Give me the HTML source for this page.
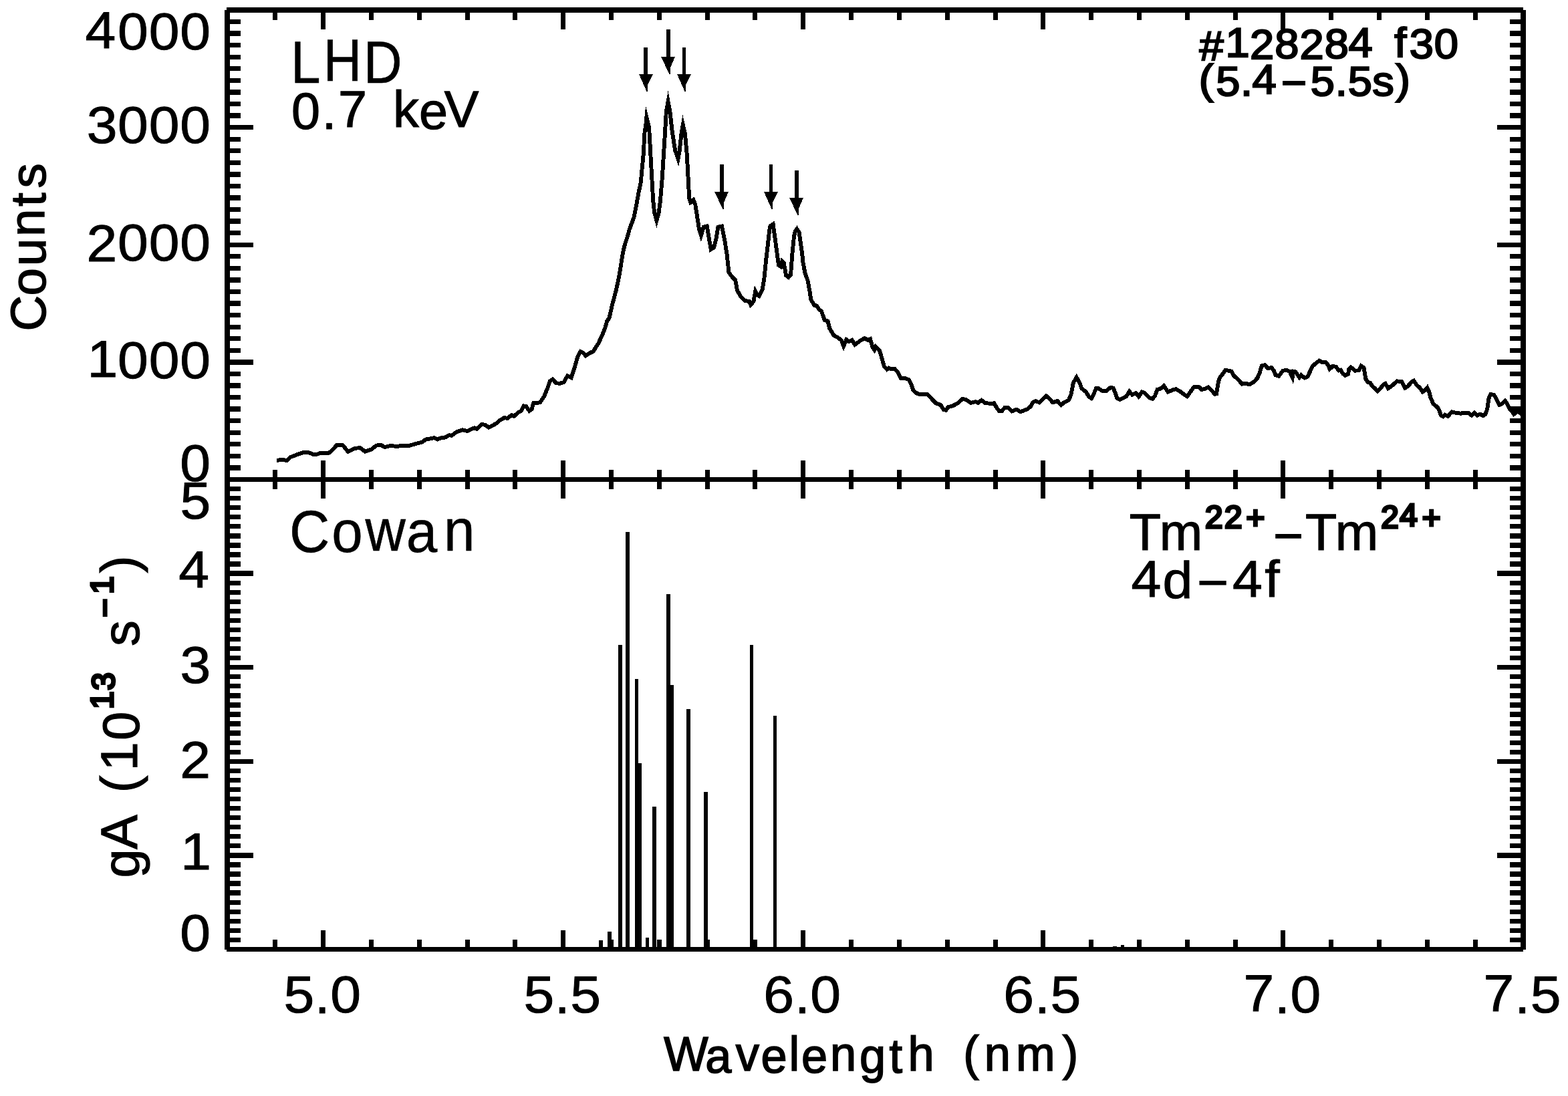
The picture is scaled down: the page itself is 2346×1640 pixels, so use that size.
<!DOCTYPE html>
<html lang="en"><head><meta charset="utf-8"><title>LHD Tm spectrum and Cowan gA values</title>
<style>
html,body{margin:0;padding:0;background:#fff}
body{width:2346px;height:1640px;overflow:hidden}
svg{display:block}
svg rect,svg polygon{shape-rendering:crispEdges}
svg text{font-family:"Liberation Sans",sans-serif;fill:#000;white-space:pre;text-rendering:geometricPrecision}
</style></head>
<body>
<svg width="2346" height="1640" viewBox="0 0 2346 1640" fill="#000">
<rect x="336.00" y="15.00" width="8.00" height="1406.00"/>
<rect x="2275.00" y="15.00" width="8.00" height="1406.00"/>
<rect x="339.00" y="11.00" width="1940.00" height="8.00"/>
<rect x="340.00" y="714.00" width="1939.00" height="7.00"/>
<rect x="339.00" y="1417.00" width="1940.00" height="7.00"/>
<rect x="408.00" y="15.00" width="7.00" height="15.00"/>
<rect x="408.00" y="703.00" width="7.00" height="29.00"/>
<rect x="408.00" y="1406.00" width="7.00" height="14.50"/>
<rect x="480.00" y="15.00" width="7.00" height="29.00"/>
<rect x="480.00" y="689.00" width="7.00" height="57.00"/>
<rect x="480.00" y="1392.00" width="7.00" height="28.50"/>
<rect x="552.00" y="15.00" width="7.00" height="15.00"/>
<rect x="552.00" y="703.00" width="7.00" height="29.00"/>
<rect x="552.00" y="1406.00" width="7.00" height="14.50"/>
<rect x="624.00" y="15.00" width="7.00" height="15.00"/>
<rect x="624.00" y="703.00" width="7.00" height="29.00"/>
<rect x="624.00" y="1406.00" width="7.00" height="14.50"/>
<rect x="696.00" y="15.00" width="7.00" height="15.00"/>
<rect x="696.00" y="703.00" width="7.00" height="29.00"/>
<rect x="696.00" y="1406.00" width="7.00" height="14.50"/>
<rect x="767.00" y="15.00" width="7.00" height="15.00"/>
<rect x="767.00" y="703.00" width="7.00" height="29.00"/>
<rect x="767.00" y="1406.00" width="7.00" height="14.50"/>
<rect x="839.00" y="15.00" width="7.00" height="29.00"/>
<rect x="839.00" y="689.00" width="7.00" height="57.00"/>
<rect x="839.00" y="1392.00" width="7.00" height="28.50"/>
<rect x="911.00" y="15.00" width="7.00" height="15.00"/>
<rect x="911.00" y="703.00" width="7.00" height="29.00"/>
<rect x="911.00" y="1406.00" width="7.00" height="14.50"/>
<rect x="983.00" y="15.00" width="7.00" height="15.00"/>
<rect x="983.00" y="703.00" width="7.00" height="29.00"/>
<rect x="983.00" y="1406.00" width="7.00" height="14.50"/>
<rect x="1055.00" y="15.00" width="7.00" height="15.00"/>
<rect x="1055.00" y="703.00" width="7.00" height="29.00"/>
<rect x="1055.00" y="1406.00" width="7.00" height="14.50"/>
<rect x="1126.00" y="15.00" width="7.00" height="15.00"/>
<rect x="1126.00" y="703.00" width="7.00" height="29.00"/>
<rect x="1126.00" y="1406.00" width="7.00" height="14.50"/>
<rect x="1198.00" y="15.00" width="7.00" height="29.00"/>
<rect x="1198.00" y="689.00" width="7.00" height="57.00"/>
<rect x="1198.00" y="1392.00" width="7.00" height="28.50"/>
<rect x="1270.00" y="15.00" width="7.00" height="15.00"/>
<rect x="1270.00" y="703.00" width="7.00" height="29.00"/>
<rect x="1270.00" y="1406.00" width="7.00" height="14.50"/>
<rect x="1342.00" y="15.00" width="7.00" height="15.00"/>
<rect x="1342.00" y="703.00" width="7.00" height="29.00"/>
<rect x="1342.00" y="1406.00" width="7.00" height="14.50"/>
<rect x="1414.00" y="15.00" width="7.00" height="15.00"/>
<rect x="1414.00" y="703.00" width="7.00" height="29.00"/>
<rect x="1414.00" y="1406.00" width="7.00" height="14.50"/>
<rect x="1486.00" y="15.00" width="7.00" height="15.00"/>
<rect x="1486.00" y="703.00" width="7.00" height="29.00"/>
<rect x="1486.00" y="1406.00" width="7.00" height="14.50"/>
<rect x="1557.00" y="15.00" width="7.00" height="29.00"/>
<rect x="1557.00" y="689.00" width="7.00" height="57.00"/>
<rect x="1557.00" y="1392.00" width="7.00" height="28.50"/>
<rect x="1629.00" y="15.00" width="7.00" height="15.00"/>
<rect x="1629.00" y="703.00" width="7.00" height="29.00"/>
<rect x="1629.00" y="1406.00" width="7.00" height="14.50"/>
<rect x="1701.00" y="15.00" width="7.00" height="15.00"/>
<rect x="1701.00" y="703.00" width="7.00" height="29.00"/>
<rect x="1701.00" y="1406.00" width="7.00" height="14.50"/>
<rect x="1773.00" y="15.00" width="7.00" height="15.00"/>
<rect x="1773.00" y="703.00" width="7.00" height="29.00"/>
<rect x="1773.00" y="1406.00" width="7.00" height="14.50"/>
<rect x="1845.00" y="15.00" width="7.00" height="15.00"/>
<rect x="1845.00" y="703.00" width="7.00" height="29.00"/>
<rect x="1845.00" y="1406.00" width="7.00" height="14.50"/>
<rect x="1916.00" y="15.00" width="7.00" height="29.00"/>
<rect x="1916.00" y="689.00" width="7.00" height="57.00"/>
<rect x="1916.00" y="1392.00" width="7.00" height="28.50"/>
<rect x="1988.00" y="15.00" width="7.00" height="15.00"/>
<rect x="1988.00" y="703.00" width="7.00" height="29.00"/>
<rect x="1988.00" y="1406.00" width="7.00" height="14.50"/>
<rect x="2060.00" y="15.00" width="7.00" height="15.00"/>
<rect x="2060.00" y="703.00" width="7.00" height="29.00"/>
<rect x="2060.00" y="1406.00" width="7.00" height="14.50"/>
<rect x="2132.00" y="15.00" width="7.00" height="15.00"/>
<rect x="2132.00" y="703.00" width="7.00" height="29.00"/>
<rect x="2132.00" y="1406.00" width="7.00" height="14.50"/>
<rect x="2204.00" y="15.00" width="7.00" height="15.00"/>
<rect x="2204.00" y="703.00" width="7.00" height="29.00"/>
<rect x="2204.00" y="1406.00" width="7.00" height="14.50"/>
<rect x="340.00" y="696.00" width="20.00" height="8.00"/>
<rect x="2259.00" y="696.00" width="20.00" height="8.00"/>
<rect x="340.00" y="679.00" width="20.00" height="7.00"/>
<rect x="2259.00" y="679.00" width="20.00" height="7.00"/>
<rect x="340.00" y="661.00" width="20.00" height="7.00"/>
<rect x="2259.00" y="661.00" width="20.00" height="7.00"/>
<rect x="340.00" y="644.00" width="20.00" height="7.00"/>
<rect x="2259.00" y="644.00" width="20.00" height="7.00"/>
<rect x="340.00" y="626.00" width="20.00" height="7.00"/>
<rect x="2259.00" y="626.00" width="20.00" height="7.00"/>
<rect x="340.00" y="608.00" width="20.00" height="8.00"/>
<rect x="2259.00" y="608.00" width="20.00" height="8.00"/>
<rect x="340.00" y="591.00" width="20.00" height="7.00"/>
<rect x="2259.00" y="591.00" width="20.00" height="7.00"/>
<rect x="340.00" y="573.00" width="20.00" height="8.00"/>
<rect x="2259.00" y="573.00" width="20.00" height="8.00"/>
<rect x="340.00" y="556.00" width="20.00" height="7.00"/>
<rect x="2259.00" y="556.00" width="20.00" height="7.00"/>
<rect x="340.00" y="538.00" width="39.00" height="8.00"/>
<rect x="2240.00" y="538.00" width="39.00" height="8.00"/>
<rect x="340.00" y="521.00" width="20.00" height="7.00"/>
<rect x="2259.00" y="521.00" width="20.00" height="7.00"/>
<rect x="340.00" y="503.00" width="20.00" height="7.00"/>
<rect x="2259.00" y="503.00" width="20.00" height="7.00"/>
<rect x="340.00" y="486.00" width="20.00" height="7.00"/>
<rect x="2259.00" y="486.00" width="20.00" height="7.00"/>
<rect x="340.00" y="468.00" width="20.00" height="7.00"/>
<rect x="2259.00" y="468.00" width="20.00" height="7.00"/>
<rect x="340.00" y="450.00" width="20.00" height="8.00"/>
<rect x="2259.00" y="450.00" width="20.00" height="8.00"/>
<rect x="340.00" y="433.00" width="20.00" height="7.00"/>
<rect x="2259.00" y="433.00" width="20.00" height="7.00"/>
<rect x="340.00" y="415.00" width="20.00" height="8.00"/>
<rect x="2259.00" y="415.00" width="20.00" height="8.00"/>
<rect x="340.00" y="398.00" width="20.00" height="7.00"/>
<rect x="2259.00" y="398.00" width="20.00" height="7.00"/>
<rect x="340.00" y="380.00" width="20.00" height="7.00"/>
<rect x="2259.00" y="380.00" width="20.00" height="7.00"/>
<rect x="340.00" y="363.00" width="39.00" height="7.00"/>
<rect x="2240.00" y="363.00" width="39.00" height="7.00"/>
<rect x="340.00" y="345.00" width="20.00" height="7.00"/>
<rect x="2259.00" y="345.00" width="20.00" height="7.00"/>
<rect x="340.00" y="327.00" width="20.00" height="8.00"/>
<rect x="2259.00" y="327.00" width="20.00" height="8.00"/>
<rect x="340.00" y="310.00" width="20.00" height="7.00"/>
<rect x="2259.00" y="310.00" width="20.00" height="7.00"/>
<rect x="340.00" y="292.00" width="20.00" height="8.00"/>
<rect x="2259.00" y="292.00" width="20.00" height="8.00"/>
<rect x="340.00" y="275.00" width="20.00" height="7.00"/>
<rect x="2259.00" y="275.00" width="20.00" height="7.00"/>
<rect x="340.00" y="257.00" width="20.00" height="8.00"/>
<rect x="2259.00" y="257.00" width="20.00" height="8.00"/>
<rect x="340.00" y="240.00" width="20.00" height="7.00"/>
<rect x="2259.00" y="240.00" width="20.00" height="7.00"/>
<rect x="340.00" y="222.00" width="20.00" height="7.00"/>
<rect x="2259.00" y="222.00" width="20.00" height="7.00"/>
<rect x="340.00" y="205.00" width="20.00" height="7.00"/>
<rect x="2259.00" y="205.00" width="20.00" height="7.00"/>
<rect x="340.00" y="187.00" width="39.00" height="7.00"/>
<rect x="2240.00" y="187.00" width="39.00" height="7.00"/>
<rect x="340.00" y="169.00" width="20.00" height="8.00"/>
<rect x="2259.00" y="169.00" width="20.00" height="8.00"/>
<rect x="340.00" y="152.00" width="20.00" height="7.00"/>
<rect x="2259.00" y="152.00" width="20.00" height="7.00"/>
<rect x="340.00" y="134.00" width="20.00" height="8.00"/>
<rect x="2259.00" y="134.00" width="20.00" height="8.00"/>
<rect x="340.00" y="117.00" width="20.00" height="7.00"/>
<rect x="2259.00" y="117.00" width="20.00" height="7.00"/>
<rect x="340.00" y="99.00" width="20.00" height="7.00"/>
<rect x="2259.00" y="99.00" width="20.00" height="7.00"/>
<rect x="340.00" y="82.00" width="20.00" height="7.00"/>
<rect x="2259.00" y="82.00" width="20.00" height="7.00"/>
<rect x="340.00" y="64.00" width="20.00" height="7.00"/>
<rect x="2259.00" y="64.00" width="20.00" height="7.00"/>
<rect x="340.00" y="46.00" width="20.00" height="8.00"/>
<rect x="2259.00" y="46.00" width="20.00" height="8.00"/>
<rect x="340.00" y="29.00" width="20.00" height="7.00"/>
<rect x="2259.00" y="29.00" width="20.00" height="7.00"/>
<rect x="340.00" y="1403.00" width="20.00" height="7.00"/>
<rect x="2259.00" y="1403.00" width="20.00" height="7.00"/>
<rect x="340.00" y="1389.00" width="20.00" height="7.00"/>
<rect x="2259.00" y="1389.00" width="20.00" height="7.00"/>
<rect x="340.00" y="1375.00" width="20.00" height="7.00"/>
<rect x="2259.00" y="1375.00" width="20.00" height="7.00"/>
<rect x="340.00" y="1361.00" width="20.00" height="7.00"/>
<rect x="2259.00" y="1361.00" width="20.00" height="7.00"/>
<rect x="340.00" y="1347.00" width="20.00" height="7.00"/>
<rect x="2259.00" y="1347.00" width="20.00" height="7.00"/>
<rect x="340.00" y="1332.00" width="20.00" height="8.00"/>
<rect x="2259.00" y="1332.00" width="20.00" height="8.00"/>
<rect x="340.00" y="1318.00" width="20.00" height="8.00"/>
<rect x="2259.00" y="1318.00" width="20.00" height="8.00"/>
<rect x="340.00" y="1304.00" width="20.00" height="8.00"/>
<rect x="2259.00" y="1304.00" width="20.00" height="8.00"/>
<rect x="340.00" y="1290.00" width="20.00" height="8.00"/>
<rect x="2259.00" y="1290.00" width="20.00" height="8.00"/>
<rect x="340.00" y="1276.00" width="39.00" height="8.00"/>
<rect x="2240.00" y="1276.00" width="39.00" height="8.00"/>
<rect x="340.00" y="1262.00" width="20.00" height="7.00"/>
<rect x="2259.00" y="1262.00" width="20.00" height="7.00"/>
<rect x="340.00" y="1248.00" width="20.00" height="7.00"/>
<rect x="2259.00" y="1248.00" width="20.00" height="7.00"/>
<rect x="340.00" y="1234.00" width="20.00" height="7.00"/>
<rect x="2259.00" y="1234.00" width="20.00" height="7.00"/>
<rect x="340.00" y="1220.00" width="20.00" height="7.00"/>
<rect x="2259.00" y="1220.00" width="20.00" height="7.00"/>
<rect x="340.00" y="1206.00" width="20.00" height="7.00"/>
<rect x="2259.00" y="1206.00" width="20.00" height="7.00"/>
<rect x="340.00" y="1192.00" width="20.00" height="7.00"/>
<rect x="2259.00" y="1192.00" width="20.00" height="7.00"/>
<rect x="340.00" y="1178.00" width="20.00" height="7.00"/>
<rect x="2259.00" y="1178.00" width="20.00" height="7.00"/>
<rect x="340.00" y="1164.00" width="20.00" height="7.00"/>
<rect x="2259.00" y="1164.00" width="20.00" height="7.00"/>
<rect x="340.00" y="1150.00" width="20.00" height="7.00"/>
<rect x="2259.00" y="1150.00" width="20.00" height="7.00"/>
<rect x="340.00" y="1136.00" width="39.00" height="7.00"/>
<rect x="2240.00" y="1136.00" width="39.00" height="7.00"/>
<rect x="340.00" y="1122.00" width="20.00" height="7.00"/>
<rect x="2259.00" y="1122.00" width="20.00" height="7.00"/>
<rect x="340.00" y="1108.00" width="20.00" height="7.00"/>
<rect x="2259.00" y="1108.00" width="20.00" height="7.00"/>
<rect x="340.00" y="1093.00" width="20.00" height="8.00"/>
<rect x="2259.00" y="1093.00" width="20.00" height="8.00"/>
<rect x="340.00" y="1079.00" width="20.00" height="8.00"/>
<rect x="2259.00" y="1079.00" width="20.00" height="8.00"/>
<rect x="340.00" y="1065.00" width="20.00" height="8.00"/>
<rect x="2259.00" y="1065.00" width="20.00" height="8.00"/>
<rect x="340.00" y="1051.00" width="20.00" height="8.00"/>
<rect x="2259.00" y="1051.00" width="20.00" height="8.00"/>
<rect x="340.00" y="1037.00" width="20.00" height="8.00"/>
<rect x="2259.00" y="1037.00" width="20.00" height="8.00"/>
<rect x="340.00" y="1023.00" width="20.00" height="7.00"/>
<rect x="2259.00" y="1023.00" width="20.00" height="7.00"/>
<rect x="340.00" y="1009.00" width="20.00" height="7.00"/>
<rect x="2259.00" y="1009.00" width="20.00" height="7.00"/>
<rect x="340.00" y="995.00" width="39.00" height="7.00"/>
<rect x="2240.00" y="995.00" width="39.00" height="7.00"/>
<rect x="340.00" y="981.00" width="20.00" height="7.00"/>
<rect x="2259.00" y="981.00" width="20.00" height="7.00"/>
<rect x="340.00" y="967.00" width="20.00" height="7.00"/>
<rect x="2259.00" y="967.00" width="20.00" height="7.00"/>
<rect x="340.00" y="953.00" width="20.00" height="7.00"/>
<rect x="2259.00" y="953.00" width="20.00" height="7.00"/>
<rect x="340.00" y="939.00" width="20.00" height="7.00"/>
<rect x="2259.00" y="939.00" width="20.00" height="7.00"/>
<rect x="340.00" y="925.00" width="20.00" height="7.00"/>
<rect x="2259.00" y="925.00" width="20.00" height="7.00"/>
<rect x="340.00" y="911.00" width="20.00" height="7.00"/>
<rect x="2259.00" y="911.00" width="20.00" height="7.00"/>
<rect x="340.00" y="897.00" width="20.00" height="7.00"/>
<rect x="2259.00" y="897.00" width="20.00" height="7.00"/>
<rect x="340.00" y="883.00" width="20.00" height="7.00"/>
<rect x="2259.00" y="883.00" width="20.00" height="7.00"/>
<rect x="340.00" y="869.00" width="20.00" height="7.00"/>
<rect x="2259.00" y="869.00" width="20.00" height="7.00"/>
<rect x="340.00" y="854.00" width="39.00" height="8.00"/>
<rect x="2240.00" y="854.00" width="39.00" height="8.00"/>
<rect x="340.00" y="840.00" width="20.00" height="8.00"/>
<rect x="2259.00" y="840.00" width="20.00" height="8.00"/>
<rect x="340.00" y="826.00" width="20.00" height="8.00"/>
<rect x="2259.00" y="826.00" width="20.00" height="8.00"/>
<rect x="340.00" y="812.00" width="20.00" height="8.00"/>
<rect x="2259.00" y="812.00" width="20.00" height="8.00"/>
<rect x="340.00" y="798.00" width="20.00" height="8.00"/>
<rect x="2259.00" y="798.00" width="20.00" height="8.00"/>
<rect x="340.00" y="784.00" width="20.00" height="7.00"/>
<rect x="2259.00" y="784.00" width="20.00" height="7.00"/>
<rect x="340.00" y="770.00" width="20.00" height="7.00"/>
<rect x="2259.00" y="770.00" width="20.00" height="7.00"/>
<rect x="340.00" y="756.00" width="20.00" height="7.00"/>
<rect x="2259.00" y="756.00" width="20.00" height="7.00"/>
<rect x="340.00" y="742.00" width="20.00" height="7.00"/>
<rect x="2259.00" y="742.00" width="20.00" height="7.00"/>
<rect x="340.00" y="728.00" width="20.00" height="7.00"/>
<rect x="2259.00" y="728.00" width="20.00" height="7.00"/>
<rect x="340.00" y="714.00" width="39.00" height="7.00"/>
<rect x="2240.00" y="714.00" width="39.00" height="7.00"/>
<rect x="925.00" y="965.00" width="6.00" height="455.00"/>
<rect x="936.00" y="796.00" width="6.00" height="624.00"/>
<rect x="950.00" y="1016.00" width="5.00" height="404.00"/>
<rect x="955.00" y="1142.00" width="5.00" height="278.00"/>
<rect x="976.00" y="1207.00" width="6.00" height="213.00"/>
<rect x="997.00" y="889.00" width="6.00" height="531.00"/>
<rect x="1003.00" y="1025.00" width="5.00" height="395.00"/>
<rect x="1027.00" y="1061.00" width="6.00" height="359.00"/>
<rect x="1053.00" y="1185.00" width="6.00" height="235.00"/>
<rect x="1122.00" y="965.00" width="5.00" height="455.00"/>
<rect x="1157.00" y="1071.00" width="5.00" height="349.00"/>
<rect x="896.00" y="1407.00" width="6.00" height="13.00"/>
<rect x="909.00" y="1394.00" width="6.00" height="26.00"/>
<rect x="966.00" y="1403.00" width="5.00" height="17.00"/>
<rect x="1665.00" y="1416.00" width="6.00" height="4.00"/>
<rect x="1677.00" y="1414.00" width="5.00" height="6.00"/>
<rect x="963.00" y="71.00" width="6.00" height="41.00"/>
<polygon points="956.0,111.0 977.0,111.0 969.0,127.0 969.0,137.0 967.5,137.0" shape-rendering="geometricPrecision"/>
<rect x="997.00" y="44.00" width="6.00" height="42.00"/>
<polygon points="989.0,85.0 1010.0,85.0 1003.0,101.0 1003.0,111.0 1001.5,111.0" shape-rendering="geometricPrecision"/>
<rect x="1021.00" y="71.00" width="5.00" height="41.00"/>
<polygon points="1013.0,111.0 1034.0,111.0 1026.0,127.0 1026.0,137.0 1024.5,137.0" shape-rendering="geometricPrecision"/>
<rect x="1077.00" y="246.00" width="6.00" height="42.00"/>
<polygon points="1069.0,287.0 1090.0,287.0 1083.0,303.0 1083.0,313.0 1081.5,313.0" shape-rendering="geometricPrecision"/>
<rect x="1151.00" y="246.00" width="5.00" height="42.00"/>
<polygon points="1143.0,287.0 1164.0,287.0 1156.0,303.0 1156.0,313.0 1154.5,313.0" shape-rendering="geometricPrecision"/>
<rect x="1189.00" y="255.00" width="6.00" height="42.00"/>
<polygon points="1181.0,296.0 1202.0,296.0 1195.0,312.0 1195.0,322.0 1193.5,322.0" shape-rendering="geometricPrecision"/>
<path d="M413.9 688.9 L420.9 687.9 L429.3 688.9 L434.8 684.0 L446.0 679.6 L454.4 676.8 L462.0 677.1 L468.3 679.9 L473.9 679.9 L479.4 677.9 L492.0 677.9 L496.2 674.3 L503.8 666.2 L512.9 666.2 L520.6 675.7 L531.0 670.8 L538.7 670.1 L546.3 675.7 L556.1 672.2 L563.1 666.6 L570.0 665.9 L575.6 669.0 L584.0 667.0 L595.1 668.0 L599.3 667.0 L611.8 667.0 L623.0 663.8 L631.4 661.7 L636.9 657.6 L649.5 655.2 L654.4 657.6 L659.2 655.5 L666.2 654.5 L671.8 651.3 L676.0 651.7 L682.9 646.4 L692.0 643.3 L699.0 645.0 L710.1 640.1 L713.6 642.0 L720.9 635.0 L725.8 635.8 L731.4 639.6 L743.2 633.3 L747.4 629.1 L755.1 624.9 L759.2 626.1 L765.5 621.0 L769.0 622.9 L775.3 617.3 L780.1 614.5 L783.6 607.5 L787.1 608.2 L792.0 614.9 L795.5 612.4 L798.3 602.6 L804.5 602.9 L808.0 602.0 L814.3 592.9 L819.9 579.0 L822.6 570.6 L826.8 567.5 L832.4 573.4 L838.0 573.7 L843.6 572.0 L849.1 562.2 L854.7 565.0 L858.9 552.5 L864.5 533.0 L868.6 526.0 L872.8 528.1 L876.3 532.3 L884.0 527.4 L887.5 526.0 L895.1 514.1 L900.7 502.3 L905.6 489.8 L908.4 480.0 L911.4 476.3 L916.2 455.4 L921.8 434.5 L926.0 414.9 L928.8 398.2 L931.6 380.1 L934.4 367.6 L938.5 355.0 L942.0 342.5 L948.3 325.7 L951.8 309.0 L955.3 289.5 L958.7 272.8 L962.6 232.1 L964.5 198.5 L966.0 189.2 L967.4 175.2 L970.9 189.2 L971.7 200.7 L973.4 232.1 L977.2 300.0 L979.1 318.0 L982.4 330.0 L985.7 318.0 L988.0 300.0 L990.8 265.8 L992.9 232.1 L995.0 198.5 L996.8 167.0 L999.6 152.0 L1002.4 167.0 L1005.9 198.5 L1010.3 225.6 L1014.5 237.6 L1016.7 225.6 L1019.4 200.7 L1021.8 186.7 L1025.0 200.7 L1027.8 232.1 L1029.6 265.8 L1031.2 296.5 L1033.3 302.8 L1037.5 299.3 L1040.3 306.2 L1043.8 328.5 L1045.9 342.5 L1048.9 352.2 L1052.8 339.7 L1057.7 338.3 L1061.2 359.2 L1063.7 373.1 L1068.2 370.3 L1071.6 356.4 L1074.4 339.7 L1080.0 338.6 L1084.2 359.2 L1087.7 381.5 L1090.5 408.0 L1096.0 414.9 L1100.2 419.1 L1103.0 434.5 L1108.6 444.2 L1114.1 449.8 L1121.1 451.2 L1123.2 456.1 L1127.4 451.2 L1130.2 435.9 L1133.0 441.4 L1135.7 442.8 L1140.6 433.1 L1143.4 416.3 L1146.2 388.5 L1149.0 364.8 L1151.1 345.3 L1152.5 338.3 L1156.7 335.5 L1160.1 360.6 L1162.9 381.5 L1165.0 396.8 L1168.2 398.9 L1170.2 391.0 L1172.7 393.3 L1176.2 412.2 L1179.7 414.9 L1183.1 410.8 L1185.2 381.5 L1188.0 353.6 L1190.1 345.3 L1192.2 342.5 L1195.7 348.0 L1198.5 367.6 L1200.2 380.0 L1201.6 393.9 L1204.4 407.9 L1208.6 420.4 L1211.4 435.7 L1213.4 448.3 L1218.3 456.7 L1221.8 457.4 L1226.0 463.6 L1228.8 465.0 L1233.7 479.0 L1238.5 480.3 L1241.3 491.5 L1247.6 502.0 L1253.9 505.4 L1258.7 508.9 L1262.2 518.0 L1266.4 508.2 L1269.9 511.0 L1274.8 508.9 L1279.0 515.9 L1287.3 509.6 L1293.6 506.1 L1298.5 508.9 L1302.0 507.1 L1305.4 519.4 L1308.2 523.6 L1310.3 518.7 L1315.9 524.3 L1319.4 536.1 L1322.9 548.6 L1327.0 552.8 L1329.8 550.7 L1332.6 552.1 L1338.9 552.1 L1343.8 557.7 L1347.9 566.1 L1354.2 566.1 L1359.8 568.2 L1363.3 575.1 L1366.1 583.5 L1370.2 587.7 L1376.5 590.5 L1387.0 589.7 L1393.9 596.7 L1400.2 603.3 L1407.2 605.7 L1412.1 613.4 L1415.5 613.7 L1418.3 609.2 L1426.0 607.1 L1433.7 602.9 L1439.9 597.1 L1444.8 597.8 L1452.5 602.9 L1459.4 601.1 L1463.6 602.9 L1468.5 598.7 L1473.4 602.9 L1483.1 604.0 L1487.3 603.3 L1491.5 610.6 L1495.0 615.1 L1499.2 614.8 L1503.3 609.9 L1508.2 609.9 L1513.8 615.5 L1520.8 612.7 L1527.0 616.2 L1537.5 612.0 L1542.4 607.8 L1545.2 602.2 L1549.3 600.1 L1554.9 602.2 L1565.4 592.5 L1570.9 597.4 L1575.1 602.2 L1582.1 600.1 L1587.7 606.1 L1591.8 602.2 L1598.8 598.7 L1602.3 591.1 L1605.8 573.0 L1610.7 564.6 L1615.5 573.0 L1618.3 581.3 L1624.6 586.2 L1629.5 593.9 L1633.0 596.0 L1636.4 589.7 L1639.9 581.3 L1643.4 581.0 L1649.0 584.8 L1655.3 584.8 L1661.5 579.9 L1665.7 580.6 L1669.2 589.7 L1671.3 596.0 L1675.5 597.8 L1684.9 593.4 L1689.8 585.7 L1693.9 590.6 L1699.5 588.1 L1703.7 593.4 L1708.6 586.4 L1712.8 588.1 L1719.0 594.8 L1724.6 596.9 L1728.1 592.0 L1731.6 582.9 L1736.4 581.5 L1741.3 577.4 L1747.6 586.4 L1755.3 583.3 L1759.4 582.2 L1765.7 585.7 L1772.0 590.6 L1776.2 593.1 L1781.0 586.4 L1786.6 578.7 L1794.3 579.4 L1797.8 582.9 L1802.6 582.0 L1808.2 579.4 L1813.8 585.0 L1817.3 589.9 L1820.1 589.2 L1822.9 571.1 L1825.6 564.1 L1829.8 559.2 L1833.3 553.7 L1842.4 555.7 L1845.9 562.0 L1852.8 568.3 L1858.4 574.6 L1864.0 573.9 L1869.5 575.3 L1876.5 571.1 L1881.4 565.5 L1884.9 557.1 L1887.7 547.4 L1892.5 546.0 L1896.7 550.9 L1902.3 550.2 L1905.8 554.4 L1908.6 561.3 L1913.4 562.7 L1919.0 555.1 L1923.9 553.7 L1929.5 555.7 L1933.7 564.8 L1935.1 555.7 L1938.5 556.4 L1944.1 564.8 L1946.9 561.3 L1951.8 565.5 L1956.7 563.4 L1960.1 555.7 L1963.6 548.1 L1969.2 543.2 L1974.1 539.7 L1977.6 541.8 L1983.1 541.8 L1984.2 542.5 L1987.7 547.4 L1989.5 552.3 L1993.9 548.1 L1998.8 548.8 L2003.0 554.4 L2005.8 553.7 L2009.3 559.2 L2012.8 562.0 L2016.9 559.9 L2018.3 552.3 L2021.1 549.5 L2027.4 554.6 L2033.0 554.4 L2036.4 547.4 L2040.6 550.2 L2043.4 566.9 L2046.2 571.8 L2050.4 573.2 L2053.2 578.0 L2056.7 580.8 L2060.8 585.3 L2065.7 580.8 L2069.2 576.0 L2072.7 573.9 L2076.9 581.1 L2082.4 577.4 L2090.1 570.4 L2097.1 571.1 L2102.0 580.6 L2106.1 578.3 L2111.7 571.8 L2115.2 569.7 L2119.4 576.0 L2123.6 579.4 L2128.4 586.4 L2131.9 584.3 L2135.4 580.1 L2138.2 586.4 L2140.3 594.8 L2144.5 604.5 L2150.7 609.4 L2153.5 614.3 L2155.6 621.3 L2159.1 623.3 L2161.9 620.6 L2166.1 622.9 L2172.3 616.4 L2177.9 617.8 L2185.6 618.7 L2188.4 617.8 L2197.4 618.2 L2201.6 621.5 L2205.8 617.8 L2210.0 621.5 L2214.1 619.6 L2219.0 622.0 L2222.5 619.9 L2225.3 611.5 L2227.4 596.2 L2230.2 590.3 L2235.1 590.6 L2239.2 597.6 L2243.4 605.9 L2246.9 604.5 L2251.8 599.7 L2255.3 604.5 L2258.0 610.8 L2262.9 616.4 L2265.0 619.9 L2270.6 615.0 L2274.8 618.5 L2278.3 616.4" fill="none" stroke="#000" stroke-width="5.9" stroke-linejoin="miter" stroke-miterlimit="10" stroke-linecap="butt" shape-rendering="crispEdges"/>
<text transform="translate(129.10,71.50) scale(1.0600,1)" font-size="77.67" x="-1.6 44.3 88.3 132.3" y="0.0 2.3 2.3 2.3" stroke="#000" stroke-width="0.94">4000</text>
<text transform="translate(129.10,211.50) scale(1.0600,1)" font-size="77.67" x="0.6 44.3 88.3 132.3" y="2.3 2.3 2.3 2.3" stroke="#000" stroke-width="0.94">3000</text>
<text transform="translate(129.10,387.50) scale(1.0600,1)" font-size="77.67" x="0.4 44.3 88.3 132.3" y="3.0 2.3 2.3 2.3" stroke="#000" stroke-width="0.94">2000</text>
<text transform="translate(129.10,563.50) scale(1.0600,1)" font-size="77.67" x="1.3 44.3 88.3 132.3" y="0.0 2.3 2.3 2.3" stroke="#000" stroke-width="0.94">1000</text>
<text transform="translate(268.90,717.50) scale(1.0600,1)" font-size="77.67" x="0.4" y="2.3" stroke="#000" stroke-width="0.94">0</text>
<text transform="translate(268.90,773.50) scale(1.0600,1)" font-size="77.67" x="0.5" y="2.3" stroke="#000" stroke-width="0.94">5</text>
<text transform="translate(268.90,879.30) scale(1.0600,1)" font-size="77.67" x="-1.6" y="0.0" stroke="#000" stroke-width="0.94">4</text>
<text transform="translate(268.90,1019.90) scale(1.0600,1)" font-size="77.67" x="0.6" y="2.3" stroke="#000" stroke-width="0.94">3</text>
<text transform="translate(268.90,1160.50) scale(1.0600,1)" font-size="77.67" x="0.4" y="3.0" stroke="#000" stroke-width="0.94">2</text>
<text transform="translate(268.90,1301.10) scale(1.0600,1)" font-size="77.67" x="1.3" y="0.0" stroke="#000" stroke-width="0.94">1</text>
<text transform="translate(268.90,1420.50) scale(1.0600,1)" font-size="77.67" x="0.4" y="2.3" stroke="#000" stroke-width="0.94">0</text>
<text transform="translate(423.93,1512.50) scale(1.0600,1)" font-size="77.67" x="0.5 44.2 66.3" y="2.3 3.0 2.3" stroke="#000" stroke-width="0.94">5.0</text>
<text transform="translate(783.00,1512.50) scale(1.0600,1)" font-size="77.67" x="0.5 44.2 66.4" y="2.3 3.0 2.3" stroke="#000" stroke-width="0.94">5.5</text>
<text transform="translate(1142.08,1512.50) scale(1.0600,1)" font-size="77.67" x="0.1 44.2 66.3" y="2.3 3.0 2.3" stroke="#000" stroke-width="0.94">6.0</text>
<text transform="translate(1501.15,1512.50) scale(1.0600,1)" font-size="77.67" x="0.1 44.2 66.4" y="2.3 3.0 2.3" stroke="#000" stroke-width="0.94">6.5</text>
<text transform="translate(1860.23,1512.50) scale(1.0600,1)" font-size="77.67" x="0.3 44.2 66.3" y="0.0 3.0 2.3" stroke="#000" stroke-width="0.94">7.0</text>
<text transform="translate(2219.30,1512.50) scale(1.0600,1)" font-size="77.67" x="0.3 44.2 66.4" y="0.0 3.0 2.3" stroke="#000" stroke-width="0.94">7.5</text>
<text transform="translate(999.50,1602.80) scale(0.9700,1)" font-size="72.53" x="-6.5 57.6 104.4 143.2 186.5 205.7 250.0 295.3 341.2 370.0 413.2 455.5 487.8 536.7 608.5" y="-0.4 1.9 -0.4 1.9 -0.4 1.9 -0.4 1.9 1.9 -0.4 1.9 -2.2 -0.4 -0.4 -2.2" stroke="#000" stroke-width="1.71">Wavelength (nm)</text>
<text transform="translate(65.70,492.80) rotate(-90)" font-size="74.24" x="-2.8 50.4 94.7 138.9 183.7 211.3" y="2.0 2.0 2.0 -0.2 2.0 2.0" stroke="#000" stroke-width="1.45">Counts</text>
<text transform="translate(205.50,1312.20) rotate(-90)"><tspan font-size="77.30" x="-1.2 41.5 86.2 125.9 158.9 204.5" y="2.1 -0.1 2.1 -0.9 -0.1 2.1" stroke="#000" stroke-width="1.20">gA (10</tspan><tspan font-size="47.62" x="251.2 279.5" y="-36.8 -34.3" stroke="#000" stroke-width="3.62">13</tspan><tspan font-size="77.30" x="307.1 345.2" y="2.1 2.1" stroke="#000" stroke-width="1.20"> s</tspan><tspan font-size="47.62" x="388.8 423.4" y="-32.7 -36.8" stroke="#000" stroke-width="3.62">−1</tspan><tspan font-size="77.30" x="454.9" y="-0.9" stroke="#000" stroke-width="1.20">)</tspan></text>
<text transform="translate(434.20,190.50)" font-size="77.30" x="1.8 47.5 71.7 116.5 153.9 192.9 230.5" y="2.1 2.9 -0.1 2.1 -0.1 2.1 -0.1" stroke="#000" stroke-width="1.20">0.7 keV</text>
<text transform="translate(1694.70,823.30)"><tspan font-size="77.30" x="-5.0 40.0" y="-0.1 -0.1" stroke="#000" stroke-width="1.20">Tm</tspan><tspan font-size="47.62" x="108.4 137.3 169.8" y="-33.6 -33.6 -32.5" stroke="#000" stroke-width="3.62">22+</tspan><tspan font-size="77.30" x="210.2 258.2 303.1" y="4.7 -0.1 -0.1" stroke="#000" stroke-width="1.20">−Tm</tspan><tspan font-size="47.62" x="371.5 399.5 433.0" y="-33.6 -36.6 -32.5" stroke="#000" stroke-width="3.62">24+</tspan></text>
<text transform="translate(1693.50,893.00) scale(1.0400,1)" font-size="77.55" x="-1.0 44.3 93.8 144.7 191.1" y="-0.0 2.2 4.8 -0.0 -0.0" stroke="#000" stroke-width="1.02">4d−4f</text>
<text transform="translate(434.20,120.50) scale(0.8900,1)" font-size="89.43" x="1.1 55.6 123.3" y="3.2 0.2 3.2" stroke="#000" stroke-width="0.68">LHD</text>
<text transform="translate(434.20,823.30) scale(0.9400,1)" font-size="88.86" x="-1.4 66.0 119.6 184.6 244.4" y="2.4 2.4 0.2 2.4 0.2" stroke="#000" stroke-width="0.51">Cowan</text>
<text transform="translate(1793.00,85.50) scale(1.0500,1)" font-size="61.99" x="1.4 38.5 73.3 108.8 144.3 179.8 213.8 250.3 279.2 300.7 336.0" y="4.4 -0.6 2.4 1.8 2.4 1.8 -0.6 1.8 -0.6 1.8 1.8" stroke="#000" stroke-width="2.26">#128284 f30</text>
<text transform="translate(1792.50,141.00) scale(1.0500,1)" font-size="61.99" x="1.3 25.4 60.6 77.1 118.6 160.3 195.5 213.6 248.4 281.7" y="-0.7 1.8 2.4 -0.6 3.8 1.8 2.4 1.8 1.8 -0.7" stroke="#000" stroke-width="2.26">(5.4−5.5s)</text>
</svg>
</body></html>
